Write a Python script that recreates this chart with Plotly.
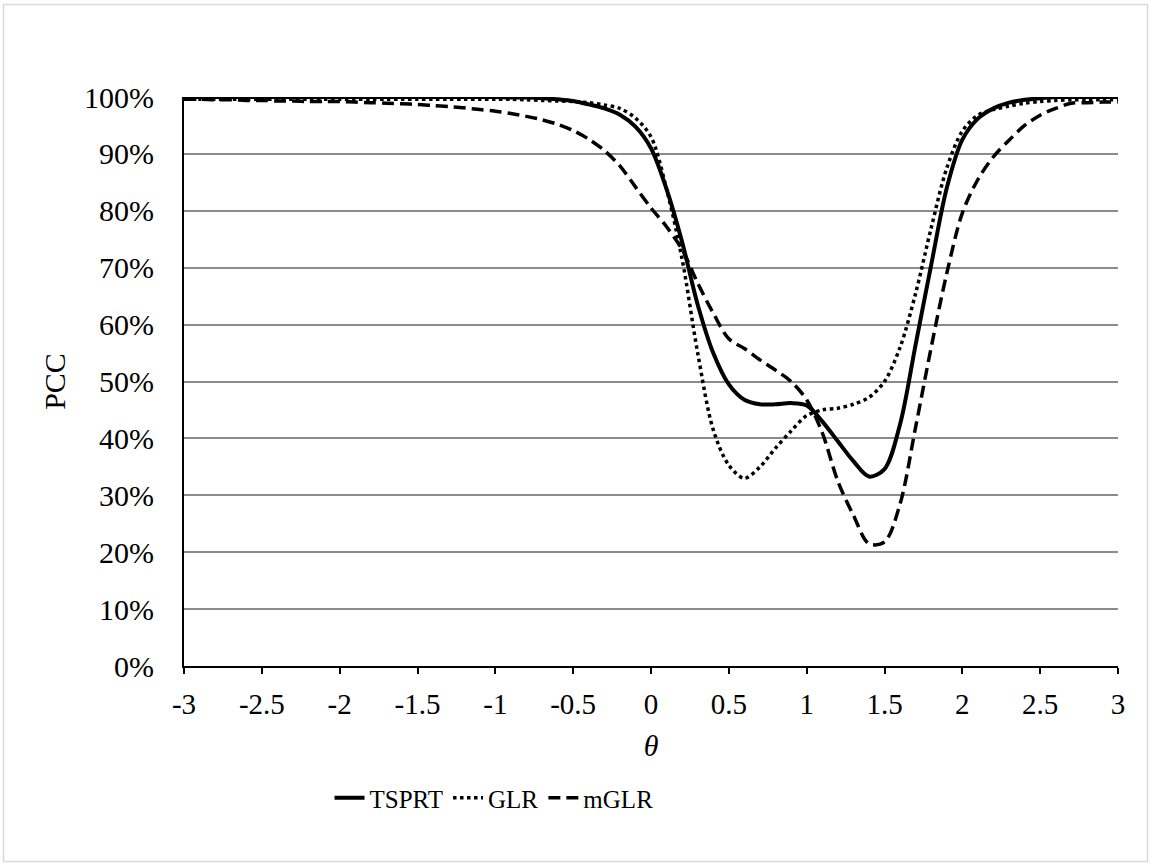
import plotly.graph_objects as go

theta = [round(-3 + 0.1 * i, 1) for i in range(61)]

tsprt = [100, 100, 100, 100, 100, 100, 100, 100, 100, 100,   # -3.0 .. -2.1
         100, 100, 100, 100, 100, 100, 100, 100, 100, 100,   # -2.0 .. -1.1
         100, 99.9, 99.9, 99.8, 99.6, 99.3, 98.7, 98.0, 96.9, 94.8,  # -1.0 .. -0.1
         91.0, 83.8, 74.5, 63.5, 55.0, 49.5, 46.8, 46.0, 46.0, 46.2,  # 0.0 .. 0.9
         45.8, 43.0, 39.5, 36.0, 33.3, 34.6, 42.5, 56.5, 70.5, 84.0,  # 1.0 .. 1.9
         92.5, 96.2, 98.0, 99.0, 99.5, 99.8, 100, 100, 100, 100,      # 2.0 .. 2.9
         100]

glr = [99.6, 99.6, 99.6, 99.6, 99.6, 99.6, 99.6, 99.6, 99.6, 99.6,
       99.6, 99.6, 99.6, 99.6, 99.6, 99.6, 99.6, 99.6, 99.6, 99.6,
       99.6, 99.6, 99.5, 99.4, 99.3, 99.2, 99.0, 98.6, 98.0, 96.3,
       93.0, 83.8, 71.5, 55.0, 41.5, 35.3, 33.0, 35.0, 38.3, 41.3,
       44.0, 45.0, 45.3, 46.0, 47.2, 50.0, 56.0, 65.5, 77.0, 87.5,
       94.0, 96.8, 97.8, 98.4, 98.9, 99.2, 99.4, 99.5, 99.5, 99.5,
       99.5]

mglr = [99.6, 99.6, 99.5, 99.5, 99.4, 99.4, 99.3, 99.3, 99.2, 99.2,
        99.2, 99.1, 99.0, 98.9, 98.8, 98.7, 98.5, 98.3, 98.1, 97.8,
        97.5, 97.1, 96.6, 96.0, 95.2, 94.1, 92.6, 90.6, 87.9, 84.2,
        80.5, 77.2, 73.2, 67.3, 62.0, 57.5, 55.8, 53.8, 52.0, 50.0,
        46.8, 41.0, 32.5, 26.5, 21.5, 21.8, 28.5, 42.0, 56.0, 69.0,
        79.6, 85.5, 89.5, 92.4, 95.0, 96.8, 98.0, 98.9, 99.0, 99.1,
        99.1]

series_names = ["TSPRT", "GLR", "mGLR"]
x_tickvals = [-3, -2.5, -2, -1.5, -1, -0.5, 0, 0.5, 1, 1.5, 2, 2.5, 3]
x_ticktext = ["-3", "-2.5", "-2", "-1.5", "-1", "-0.5", "0", "0.5", "1", "1.5", "2", "2.5", "3"]
y_tickvals = [0, 10, 20, 30, 40, 50, 60, 70, 80, 90, 100]
y_ticktext = ["0%", "10%", "20%", "30%", "40%", "50%", "60%", "70%", "80%", "90%", "100%"]

FONT = "Liberation Serif"

fig = go.Figure()
styles = [
    dict(color="black", width=4, dash="solid"),
    dict(color="black", width=3.5, dash="3.5px,3.5px"),
    dict(color="black", width=3.5, dash="12px,6px"),
]
for name, vals, st in zip(series_names, [tsprt, glr, mglr], styles):
    fig.add_trace(go.Scatter(
        x=theta, y=vals, name=name, mode="lines",
        line=dict(color=st["color"], width=st["width"], dash=st["dash"], shape="spline", smoothing=0.9),
        cliponaxis=False,
    ))

W, H = 1151, 865
L, R, T, B = 184, 33, 97, 199
pw, ph = W - L - R, H - T - B

def px2paper_x(px):
    return (px - L) / pw

def px2paper_y(py):
    return (H - B - py) / ph

fig.update_layout(
    width=W, height=H,
    margin=dict(l=L, r=R, t=T, b=B, pad=0),
    paper_bgcolor="white", plot_bgcolor="white",
    font=dict(family=FONT, size=30, color="black"),
    showlegend=True,
    legend=dict(
        orientation="h",
        x=px2paper_x(494), xanchor="center",
        y=px2paper_y(798), yanchor="middle",
        font=dict(family=FONT, size=25, color="black"),
        bgcolor="rgba(0,0,0,0)",
    ),
    xaxis=dict(
        range=[-3, 3],
        tickvals=x_tickvals, ticktext=x_ticktext,
        showgrid=False, zeroline=False,
        showline=True, linecolor="black", linewidth=2,
        ticks="outside", ticklen=6, tickcolor="black", tickwidth=1.5,
        ticklabelstandoff=5,
        tickfont=dict(family=FONT, size=29),
        title=dict(text="<i>θ</i>", font=dict(family=FONT, size=30), standoff=16),
    ),
    yaxis=dict(
        range=[0, 100],
        tickvals=y_tickvals, ticktext=y_ticktext,
        showgrid=True, gridcolor="#8c8c8c", gridwidth=1.5,
        zeroline=False,
        showline=True, linecolor="black", linewidth=2,
        ticks="", ticklabelstandoff=22,
        tickfont=dict(family=FONT, size=30),
        title=dict(text="PCC", font=dict(family=FONT, size=30), standoff=10),
    ),
    shapes=[dict(
        type="rect", xref="paper", yref="paper",
        x0=px2paper_x(3.5), x1=px2paper_x(W - 3.5),
        y0=px2paper_y(H - 3.5), y1=px2paper_y(4.5),
        line=dict(color="#d9d9d9", width=1.5), fillcolor="rgba(0,0,0,0)", layer="below",
    )],
)

fig.write_html("out.html")
